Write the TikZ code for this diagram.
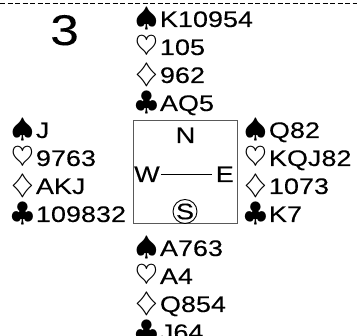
\RequirePackage{fix-cm}
\documentclass[tikz,border=0pt]{standalone}
\usepackage{fontspec}
\usepackage{graphicx}
\setmainfont[FakeStretch=1.2,FakeBold=0.15]{Liberation Sans}
\tikzset{
  cardfont/.style={font=\fontsize{22.5}{28}\selectfont},
  holding/.style={cardfont, anchor=base west, inner sep=0pt},
  seat/.style={cardfont, anchor=base, inner sep=0pt},
  dealer/.style={circle, draw=black, line width=0.9pt, minimum size=23.5pt, inner sep=0pt, cardfont},
  compass/.style={draw=black!65, line width=0.9pt},
  separator/.style={line width=0.8pt, dash pattern=on 5pt off 2.5pt}
}
\newcommand{\suitsym}[1]{\scalebox{1.3}[1.2]{$#1$}\hspace{2pt}}
% name, x, first baseline, then spades, hearts, diamonds, clubs
\newcommand{\hand}[7]{
  \foreach \suit/\cards [count=\i from 0] in {\spadesuit/#4,\heartsuit/#5,\diamondsuit/#6,\clubsuit/#7}{
    \node[holding] (#1-\i) at (#2,{#3+28*\i}) {\suitsym{\suit}\cards};
  }
}

\begin{document}
\begin{tikzpicture}[x=1pt,y=-1pt]
  \useasboundingbox (0,0) rectangle (357,336);
  \draw[separator] (0,3) -- (357,3);
  % board number
  \node[anchor=base west, inner sep=0pt, font=\fontsize{43}{43}\selectfont] (board) at (50,45) {3};
  % the four hands
  \hand{north}{135}{27}{K10954}{105}{962}{AQ5}
  \hand{west}{11}{138}{J}{9763}{AKJ}{109832}
  \hand{east}{244}{138}{Q82}{KQJ82}{1073}{K7}
  \hand{south}{135}{256}{A763}{A4}{Q854}{J64}
  % compass
  \draw[compass] (133,120) rectangle (237,223);
  \node[seat] (N) at (185.5,143) {N};
  \node[seat, anchor=base west] (W) at (134,182) {W};
  \node[seat, anchor=base east] (E) at (234,182) {E};
  \node[dealer] (S) at (185,211.5) {S};
  \draw[line width=0.9pt, shorten <=1pt, shorten >=4pt] (W) -- (E);
\end{tikzpicture}
\end{document}
